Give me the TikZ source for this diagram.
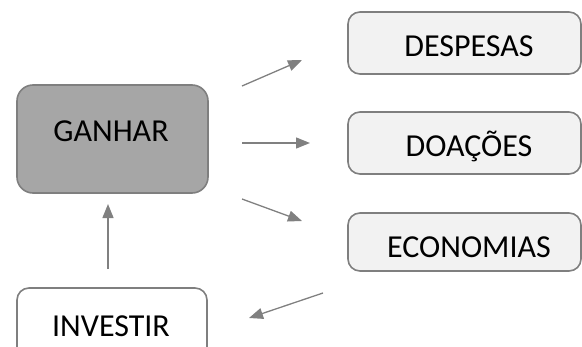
\documentclass[tikz,border=0pt]{standalone}
\usepackage{fontspec}
\setmainfont{Carlito}
\usetikzlibrary{arrows.meta}
\definecolor{bordergray}{HTML}{7F7F7F}
\definecolor{darkfill}{HTML}{A6A6A6}
\definecolor{lightfill}{HTML}{F2F2F2}
\definecolor{arrowgray}{HTML}{808080}
\begin{document}
\begin{tikzpicture}[x=1pt,y=-1pt,
  boxstyle/.style={draw=bordergray, line width=1.6pt, rounded corners=12pt},
  flow/.style={draw=arrowgray, line width=1.3pt, -{Triangle[length=14pt,width=11pt]}},
  lbl/.style={font=\fontsize{32}{36}\selectfont, inner sep=0pt, anchor=center}]
\useasboundingbox (0,0) rectangle (582,346);
\clip (0,0) rectangle (582,346);
% boxes
\draw[boxstyle, fill=darkfill, rounded corners=16pt] (17,85) rectangle (208,193);
\node[lbl] (ganhar) at (111,131) {GANHAR};
\draw[boxstyle, fill=lightfill] (348,12) rectangle (581,74);
\node[lbl] (desp) at (469,46) {DESPESAS};
\draw[boxstyle, fill=lightfill] (348,112) rectangle (581,174);
\node[lbl] (doac) at (469,146) {DOAÇÕES};
\draw[boxstyle, fill=lightfill] (348,213) rectangle (581,271);
\node[lbl] (econ) at (469,247) {ECONOMIAS};
\draw[boxstyle, fill=white] (17,288) rectangle (207,370);
\node[lbl] (inv) at (111,326) {INVESTIR};
% arrow end points
\coordinate (a1s) at (242,86);  \coordinate (a1e) at (302,60);
\coordinate (a2s) at (242,143); \coordinate (a2e) at (310,143);
\coordinate (a3s) at (242,199); \coordinate (a3e) at (302,221);
\coordinate (a4s) at (323,293); \coordinate (a4e) at (249,318);
\coordinate (a5s) at (108,269); \coordinate (a5e) at (108,204);
\draw[flow] (a1s) -- (a1e);
\draw[flow] (a2s) -- (a2e);
\draw[flow] (a3s) -- (a3e);
\draw[flow] (a4s) -- (a4e);
\draw[flow] (a5s) -- (a5e);
\end{tikzpicture}
\end{document}
